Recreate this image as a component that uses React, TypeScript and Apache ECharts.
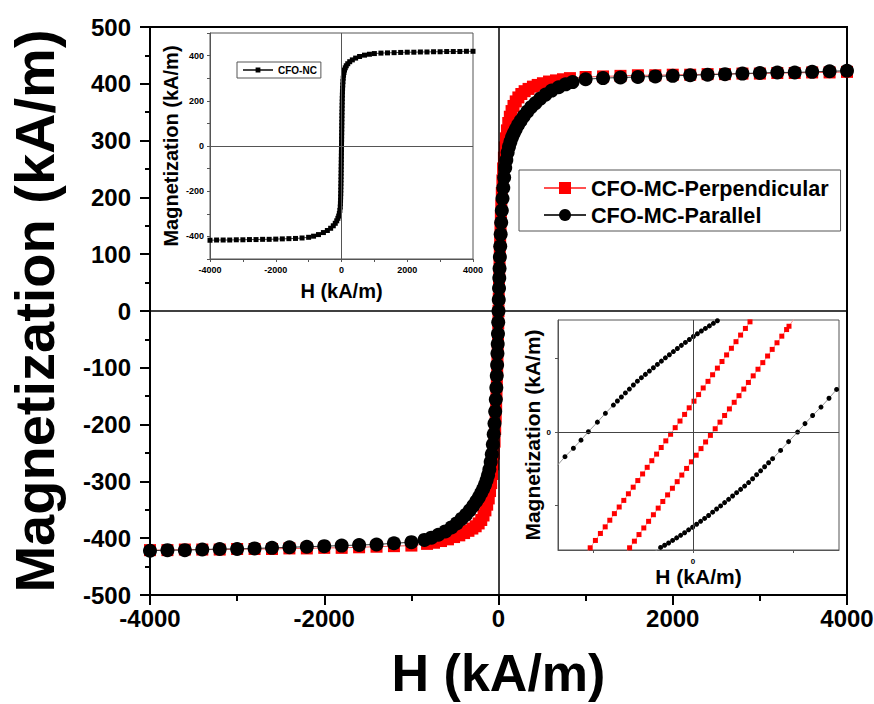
import React, { useEffect, useRef } from 'react';
import * as echarts from 'echarts';

type Pt = [number, number];

// ---- legend / axis texts ----
const seriesNames = ['CFO-MC-Perpendicular', 'CFO-MC-Parallel'];
const insetName = 'CFO-NC';
const axisTitleX = 'H (kA/m)';
const axisTitleY = 'Magnetization (kA/m)';

// ---- main plot: CFO-MC perpendicular (red squares) [H, M] ----
const perpendicular: Pt[] = [
  [-4000, -421], [-3800, -421], [-3600, -420], [-3400, -420], [-3200, -420], [-3000, -419], [-2800, -419],
  [-2600, -419], [-2400, -418], [-2200, -418], [-2000, -417], [-1800, -417], [-1600, -416], [-1400, -415],
  [-1200, -414], [-1000, -413], [-820, -410], [-740, -408], [-660, -405], [-580, -402], [-510, -398],
  [-450, -395], [-395, -391], [-345, -387], [-300, -383], [-262, -379], [-228, -374], [-198, -368],
  [-172, -360], [-150, -351], [-130, -341], [-112, -330], [-97, -317], [-84, -303], [-72, -287], [-62, -270],
  [-53, -251], [-45, -230], [-38, -208], [-32, -186], [-27, -165], [-23, -146], [-19, -126], [-15, -104],
  [-12, -85], [-9, -65], [-6, -44], [-3, -22], [0, 0], [3, 22], [6, 44], [9, 65], [12, 85], [15, 104],
  [19, 126], [23, 146], [27, 165], [32, 186], [38, 208], [45, 230], [53, 251], [62, 270], [72, 288],
  [84, 304], [97, 318], [112, 331], [130, 342], [150, 352], [172, 361], [198, 369], [228, 376], [262, 382],
  [300, 387], [345, 391], [395, 395], [450, 398], [510, 401], [580, 404], [660, 406], [740, 408], [820, 410],
  [1000, 412], [1200, 413], [1400, 414], [1600, 415], [1800, 415], [2000, 416], [2200, 416], [2400, 417],
  [2600, 417], [2800, 418], [3000, 418], [3200, 419], [3400, 419], [3600, 420], [3800, 420], [4000, 421],
];

// ---- main plot: CFO-MC parallel (black circles) [H, M] ----
const parallel: Pt[] = [
  [-4000, -422], [-3800, -421], [-3600, -421], [-3400, -420], [-3200, -419], [-3000, -419], [-2800, -418],
  [-2600, -417], [-2400, -416], [-2200, -415], [-2000, -414], [-1800, -413], [-1600, -412], [-1400, -411],
  [-1200, -409], [-1000, -407], [-850, -403], [-770, -399], [-690, -394], [-610, -388], [-540, -381],
  [-480, -374], [-425, -366], [-375, -359], [-330, -351], [-290, -343], [-255, -335], [-225, -328],
  [-198, -320], [-175, -313], [-155, -306], [-137, -298], [-120, -289], [-105, -279], [-90, -266],
  [-77, -252], [-65, -235], [-55, -217], [-46, -198], [-38, -177], [-31, -156], [-25, -135], [-20, -114],
  [-16, -95], [-12, -75], [-9, -58], [-6, -40], [-3, -20], [0, 0], [3, 20], [6, 40], [9, 58], [12, 75],
  [16, 95], [20, 114], [25, 135], [31, 156], [38, 177], [46, 198], [55, 217], [65, 235], [77, 252],
  [90, 266], [105, 279], [120, 289], [137, 298], [155, 306], [175, 313], [198, 320], [225, 328], [255, 335],
  [290, 343], [330, 351], [375, 359], [425, 366], [480, 374], [540, 381], [610, 388], [690, 394], [770, 399],
  [850, 403], [1000, 408], [1200, 410], [1400, 411], [1600, 412], [1800, 413], [2000, 414], [2200, 415],
  [2400, 416], [2600, 417], [2800, 418], [3000, 419], [3200, 420], [3400, 420], [3600, 421], [3800, 422],
  [4000, 423],
];

// ---- top-left inset: CFO-NC (black squares) [H, M] ----
const nanoCrystal: Pt[] = [
  [-4000, -417], [-3800, -416], [-3600, -416], [-3400, -416], [-3200, -415], [-3000, -415], [-2800, -414],
  [-2600, -414], [-2400, -413], [-2200, -413], [-2000, -412], [-1800, -411], [-1600, -410], [-1400, -409],
  [-1200, -407], [-1000, -404], [-850, -399], [-700, -392], [-550, -383], [-430, -374], [-330, -364],
  [-250, -353], [-190, -342], [-145, -331], [-110, -320], [-85, -310], [-65, -298], [-50, -285], [-38, -270],
  [-33, -255], [-29, -240], [-26, -225], [-23, -210], [-21, -195], [-19, -180], [-17, -165], [-15, -150],
  [-13.5, -135], [-12, -120], [-10.5, -105], [-9, -90], [-7.5, -75], [-6, -60], [-4.5, -45], [-3, -30],
  [-1.5, -15], [0, 0], [1.5, 15], [3, 30], [4.5, 45], [6, 60], [7.5, 75], [9, 90], [10.5, 105], [12, 120],
  [13.5, 135], [15, 150], [17, 165], [19, 180], [21, 195], [23, 210], [26, 225], [29, 240], [33, 255],
  [38, 270], [44, 285], [52, 300], [62, 313], [75, 325], [92, 336], [115, 346], [145, 355], [190, 364],
  [250, 373], [330, 381], [430, 389], [550, 396], [700, 402], [850, 406], [1000, 409], [1200, 411],
  [1400, 412], [1600, 413], [1800, 414], [2000, 415], [2200, 415], [2400, 416], [2600, 416], [2800, 417],
  [3000, 417], [3200, 418], [3400, 418], [3600, 418], [3800, 419], [4000, 419],
];

// ---- bottom-right inset: loops near the origin [H, M] ----
const zoomPerpDesc: Pt[] = [
  [-5.4, -33.5], [-5.14, -31.5], [-4.88, -29.5], [-4.63, -27.6], [-4.39, -25.8], [-4.16, -24.0], [-3.93, -22.2],
  [-3.69, -20.4], [-3.46, -18.6], [-3.23, -16.8], [-2.99, -15.0], [-2.76, -13.2], [-2.52, -11.4], [-2.29, -9.6],
  [-2.06, -7.8], [-1.82, -6.0], [-1.59, -4.2], [-1.36, -2.4], [-1.12, -0.6], [-0.89, 1.2], [-0.65, 3.0],
  [-0.42, 4.8], [-0.19, 6.6], [0.05, 8.4], [0.28, 10.2], [0.51, 12.0], [0.75, 13.8], [0.98, 15.6], [1.22, 17.4],
  [1.45, 19.2], [1.68, 21.0], [1.92, 22.8], [2.15, 24.6], [2.38, 26.4], [2.62, 28.2], [2.85, 30.0], [3.1, 32.0],
];
const zoomPerpAsc: Pt[] = [
  [-3.4, -33.3], [-3.17, -31.5], [-2.93, -29.7], [-2.70, -27.9], [-2.46, -26.1], [-2.22, -24.3], [-1.98, -22.5],
  [-1.74, -20.7], [-1.51, -18.9], [-1.27, -17.1], [-1.03, -15.3], [-0.79, -13.5], [-0.56, -11.7], [-0.32, -9.9],
  [-0.08, -8.1], [0.16, -6.3], [0.40, -4.5], [0.63, -2.7], [0.87, -0.9], [1.11, 0.9], [1.35, 2.7], [1.58, 4.5],
  [1.82, 6.3], [2.06, 8.1], [2.30, 9.9], [2.54, 11.7], [2.77, 13.5], [3.01, 15.3], [3.25, 17.1], [3.49, 18.9],
  [3.73, 20.7], [3.96, 22.5], [4.20, 24.3], [4.44, 26.1], [4.68, 27.9], [4.80, 28.8], [5.1, 31.2],
];
const zoomParDesc: Pt[] = [
  [-6.85, -9.5], [-6.40, -6.7], [-5.98, -4.4], [-5.60, -2.2], [-5.23, 0.1], [-4.78, 2.7], [-4.38, 5.1],
  [-3.98, 7.35], [-3.78, 8.45], [-3.58, 9.55], [-3.38, 10.65], [-3.18, 11.7], [-2.98, 12.8], [-2.78, 13.85],
  [-2.58, 14.8], [-2.38, 15.7], [-2.18, 16.6], [-1.98, 17.5], [-1.78, 18.4], [-1.58, 19.3], [-1.38, 20.2],
  [-1.18, 21.05], [-0.98, 21.9], [-0.78, 22.75], [-0.58, 23.6], [-0.38, 24.4], [-0.18, 25.2], [0.02, 26.0],
  [0.22, 26.75], [0.42, 27.5], [0.62, 28.2], [0.82, 28.9], [1.02, 29.6], [1.22, 30.3], [1.42, 31.0],
];
const zoomParAsc: Pt[] = [
  [-1.9, -32.5], [-1.62, -31.4], [-1.42, -30.8], [-1.22, -30.2], [-1.02, -29.5], [-0.82, -28.8], [-0.62, -28.1],
  [-0.42, -27.4], [-0.22, -26.6], [-0.02, -25.9], [0.18, -25.1], [0.38, -24.3], [0.58, -23.5], [0.78, -22.7],
  [0.98, -21.8], [1.18, -20.95], [1.38, -20.1], [1.58, -19.2], [1.78, -18.3], [1.98, -17.4], [2.18, -16.5],
  [2.38, -15.6], [2.58, -14.7], [2.78, -13.75], [2.98, -12.7], [3.18, -11.6], [3.38, -10.55], [3.58, -9.45],
  [3.78, -8.35], [3.98, -7.25], [4.38, -5.0], [4.78, -2.6], [5.23, 0.0], [5.60, 2.3], [5.98, 4.5], [6.40, 6.8],
  [6.80, 9.2], [7.18, 11.6], [7.5, 13.5],
];

// ---- axis ranges / ticks ----
const mainXRange: Pt = [-4000, 4000];
const mainYRange: Pt = [-500, 500];
const insetXRange: Pt = [-4000, 4000];
const insetYRange: Pt = [-500, 500];
const zoomXRange: Pt = [-6.75, 7.3];
const zoomYRange: Pt = [-32.1, 30.5];
const zoomXTicks = [-5, 0, 5];
const zoomYTicks = [-20, 0, 20];
const zoomLabels = [0];

const FONT = '"Liberation Sans", Arial, Helvetica, sans-serif';
const txt = (size: number, color = '#000') => ({ fontFamily: FONT, fontWeight: 'bold' as const, fontSize: size, color });

const zeroLines = (color: string, width: number) => ({
  silent: true,
  symbol: 'none',
  animation: false,
  label: { show: false },
  emphasis: { disabled: true },
  lineStyle: { color, width, type: 'solid' },
  data: [{ xAxis: 0 }, { yAxis: 0 }],
});

function buildOption() {
  const insetAxisBase = {
    axisLine: { show: true, onZero: false, lineStyle: { color: '#555', width: 1 } },
    axisTick: { show: true, inside: false, length: 3, lineStyle: { color: '#555', width: 1 } },
    splitLine: { show: false },
  };
  return {
    animation: false,
    backgroundColor: '#fff',
    grid: [
      { left: 150, top: 27, width: 697, height: 568, show: true, borderColor: '#000', borderWidth: 2, outerBoundsMode: 'none', containLabel: false },
      { left: 210, top: 33, width: 263, height: 226, show: true, borderColor: '#555', borderWidth: 1, outerBoundsMode: 'none', containLabel: false },
      { left: 558, top: 320, width: 281, height: 230, show: true, borderColor: '#555', borderWidth: 1, outerBoundsMode: 'none', containLabel: false },
    ],
    xAxis: [
      {
        gridIndex: 0, type: 'value', min: mainXRange[0], max: mainXRange[1], interval: 2000,
        name: axisTitleX, nameLocation: 'middle', nameGap: 52, nameTextStyle: txt(52),
        axisLine: { show: true, onZero: false, lineStyle: { color: '#000', width: 2 } },
        axisTick: { show: true, inside: false, length: 10, lineStyle: { color: '#000', width: 2 } },
        minorTick: { show: true, splitNumber: 2, length: 6, lineStyle: { color: '#000', width: 2 } },
        axisLabel: { ...txt(24), margin: 11, formatter: (v: number) => String(v) },
        splitLine: { show: false },
      },
      {
        gridIndex: 1, type: 'value', min: insetXRange[0], max: insetXRange[1], interval: 1000,
        name: axisTitleX, nameLocation: 'middle', nameGap: 22, nameTextStyle: txt(20),
        ...insetAxisBase,
        axisLabel: { ...txt(9), margin: 6, formatter: (v: number) => (v % 2000 === 0 ? String(v) : '') },
      },
      {
        gridIndex: 2, type: 'value', min: zoomXRange[0], max: zoomXRange[1],
        name: axisTitleX, nameLocation: 'middle', nameGap: 16, nameTextStyle: txt(21),
        ...insetAxisBase,
        axisTick: { ...insetAxisBase.axisTick, customValues: zoomXTicks },
        axisLabel: { ...txt(8), margin: 7, customValues: zoomLabels },
      },
    ],
    yAxis: [
      {
        gridIndex: 0, type: 'value', min: mainYRange[0], max: mainYRange[1], interval: 100,
        name: axisTitleY, nameLocation: 'middle', nameGap: 88, nameTextStyle: txt(56),
        axisLine: { show: true, onZero: false, lineStyle: { color: '#000', width: 2 } },
        axisTick: { show: true, inside: false, length: 10, lineStyle: { color: '#000', width: 2 } },
        minorTick: { show: true, splitNumber: 2, length: 5, lineStyle: { color: '#000', width: 2 } },
        axisLabel: { ...txt(24), margin: 19, formatter: (v: number) => String(v) },
        splitLine: { show: false },
      },
      {
        gridIndex: 1, type: 'value', min: insetYRange[0], max: insetYRange[1], interval: 100,
        name: axisTitleY, nameLocation: 'middle', nameGap: 29, nameTextStyle: txt(20),
        ...insetAxisBase,
        axisLabel: { ...txt(9), margin: 6, formatter: (v: number) => (v % 200 === 0 ? String(v) : '') },
      },
      {
        gridIndex: 2, type: 'value', min: zoomYRange[0], max: zoomYRange[1],
        name: axisTitleY, nameLocation: 'middle', nameGap: 15, nameTextStyle: txt(21),
        ...insetAxisBase,
        axisTick: { ...insetAxisBase.axisTick, customValues: zoomYTicks },
        axisLabel: { ...txt(8), margin: 7, customValues: zoomLabels },
      },
    ],
    legend: [
      {
        data: seriesNames, orient: 'vertical', left: 519, top: 170,
        itemWidth: 42, itemHeight: 15, itemGap: 5, padding: [7, 12, 5, 24],
        borderColor: '#555', borderWidth: 1, selectedMode: false,
        textStyle: txt(21.6),
      },
      {
        data: [insetName], left: 237, top: 62,
        itemWidth: 30, itemHeight: 6, padding: [3, 4, 3, 5],
        borderColor: '#555', borderWidth: 1, selectedMode: false,
        textStyle: txt(10),
      },
    ],
    series: [
      {
        name: seriesNames[0], type: 'line', xAxisIndex: 0, yAxisIndex: 0, data: perpendicular,
        symbol: 'rect', symbolSize: 12, itemStyle: { color: '#ff0000' },
        lineStyle: { color: '#ff5050', width: 1 }, silent: true, z: 2,
        markLine: zeroLines('#000', 1.5),
      },
      {
        name: seriesNames[1], type: 'line', xAxisIndex: 0, yAxisIndex: 0, data: parallel,
        symbol: 'circle', symbolSize: 14, itemStyle: { color: '#000' },
        lineStyle: { color: '#333', width: 1 }, silent: true, z: 3,
      },
      {
        name: insetName, type: 'line', xAxisIndex: 1, yAxisIndex: 1, data: nanoCrystal,
        symbol: 'rect', symbolSize: 5, itemStyle: { color: '#000' },
        lineStyle: { color: '#444', width: 1 }, silent: true, z: 3,
        markLine: zeroLines('#555', 1),
      },
      {
        name: 'zoom-perpendicular-descending', type: 'line', xAxisIndex: 2, yAxisIndex: 2, data: zoomPerpDesc,
        symbol: 'rect', symbolSize: 5, itemStyle: { color: '#ff0000' },
        lineStyle: { color: '#ff9a9a', width: 1 }, silent: true, z: 3,
        markLine: zeroLines('#444', 1),
      },
      {
        name: 'zoom-perpendicular-ascending', type: 'line', xAxisIndex: 2, yAxisIndex: 2, data: zoomPerpAsc,
        symbol: 'rect', symbolSize: 5, itemStyle: { color: '#ff0000' },
        lineStyle: { color: '#ff9a9a', width: 1 }, silent: true, z: 3,
      },
      {
        name: 'zoom-parallel-descending', type: 'line', xAxisIndex: 2, yAxisIndex: 2, data: zoomParDesc,
        symbol: 'circle', symbolSize: 5, itemStyle: { color: '#000' },
        lineStyle: { color: '#999', width: 1 }, silent: true, z: 3,
      },
      {
        name: 'zoom-parallel-ascending', type: 'line', xAxisIndex: 2, yAxisIndex: 2, data: zoomParAsc,
        symbol: 'circle', symbolSize: 5, itemStyle: { color: '#000' },
        lineStyle: { color: '#999', width: 1 }, silent: true, z: 3,
      },
    ],
  };
}

export default function App() {
  const ref = useRef<HTMLDivElement>(null);
  useEffect(() => {
    if (!ref.current) return;
    const chart = echarts.init(ref.current, undefined, { renderer: 'svg' });
    chart.setOption(buildOption() as any);
    return () => chart.dispose();
  }, []);
  return (
    <div
      ref={ref}
      style={{ position: 'absolute', left: 0, top: 0, width: 874, height: 704, background: '#fff' }}
    />
  );
}
